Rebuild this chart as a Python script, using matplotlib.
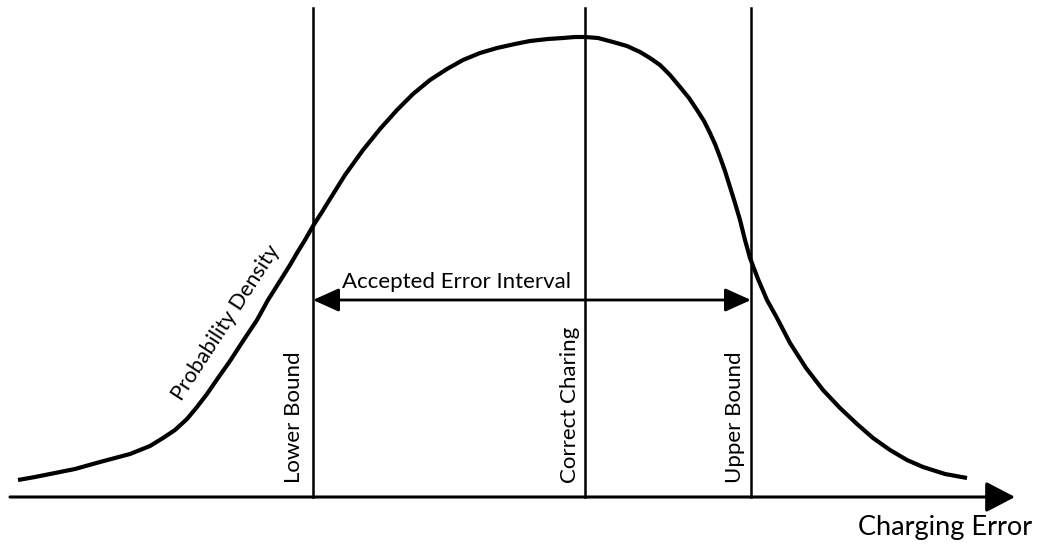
import matplotlib
matplotlib.use("Agg")
from matplotlib import pyplot as plt

plt.rcParams['font.family'] = ['Lato', 'DejaVu Sans']

# curve (pixel coords, y grows downward)
curve_x = [18, 35, 50, 75, 100, 115, 130, 150, 163, 175, 187, 197, 207, 218,
           230, 243, 257, 268, 280, 290, 297, 305, 313, 322, 330, 345, 363,
           380, 397, 413, 430, 447, 463, 480, 497, 515, 530, 548, 563, 575,
           585, 598, 613, 627, 640, 650, 660, 670, 680, 689, 697, 704, 710,
           715, 720, 725, 730, 735, 740, 745, 750, 758, 767, 777, 790, 806,
           823, 840, 857, 873, 890, 907, 923, 945, 967]
curve_y = [480, 477, 474, 469, 462, 458, 454, 446, 438, 430, 419, 407, 394, 378,
           361, 341, 320, 300, 281, 265, 253, 240, 226, 212, 199, 175, 150,
           129, 110, 94, 80, 69, 60, 53, 48, 44, 41, 39, 38, 37,
           37, 38, 42, 46, 52, 58, 65, 75, 87, 98, 110, 121, 133,
           144, 157, 171, 187, 203, 220, 240, 258, 279, 300, 318, 343, 368,
           390, 408, 424, 438, 450, 460, 467, 474, 478]

bound_x = [313, 585, 751]
bound_labels = ["Lower Bound", "Correct Charing", "Upper Bound"]
bound_label_x = [294, 570, 735]

axis_y = 497
interval_y = 300

fig = plt.figure(figsize=(10.47, 5.5), dpi=100)
ax = fig.add_axes([0, 0, 1, 1])
ax.set_xlim(0, 1047)
ax.set_ylim(550, 0)
ax.axis('off')

ax.plot(curve_x, curve_y, color='black', lw=3.0, solid_capstyle='butt',
        solid_joinstyle='round')

for bx in bound_x:
    ax.plot([bx, bx], [8, axis_y], color='black', lw=1.8)

for lx, lab in zip(bound_label_x, bound_labels):
    ax.text(lx, 483, lab, rotation=90, ha='center', va='bottom', fontsize=16)

# horizontal axis with arrow
ax.annotate('', xy=(1015, axis_y), xytext=(10, axis_y),
            arrowprops=dict(arrowstyle='-|>,head_length=0.9,head_width=0.47',
                            mutation_scale=20, lw=2.2, color='black',
                            shrinkA=0, shrinkB=0))
ax.text(1032, 528, "Charging Error", ha='right', va='center', fontsize=19.5)

# accepted interval arrow
ax.annotate('', xy=(bound_x[2], interval_y), xytext=(bound_x[0], interval_y),
            arrowprops=dict(arrowstyle='<|-|>,head_length=0.8,head_width=0.36',
                            mutation_scale=20, lw=2.0, color='black',
                            shrinkA=0, shrinkB=0))
ax.text(456, 282, "Accepted Error Interval", ha='center', va='center', fontsize=16)

ax.text(226, 323, "Probability Density", rotation=57, ha='center', va='center',
        fontsize=15.5, rotation_mode='anchor')

fig.savefig('out.png', dpi=100)
